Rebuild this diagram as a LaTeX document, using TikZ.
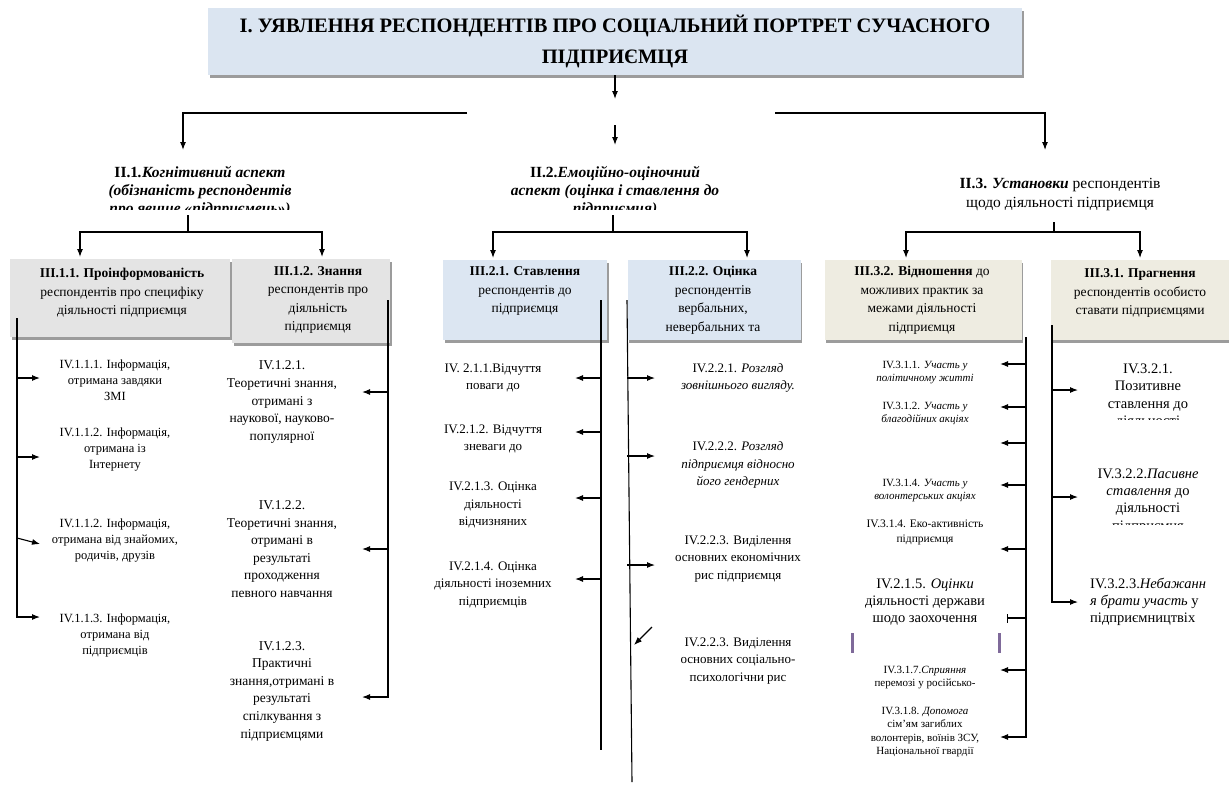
\documentclass[tikz,border=0pt]{standalone}
\usepackage{fontspec}
\setmainfont{Liberation Serif}
\usetikzlibrary{arrows.meta,shadows}

\definecolor{titleblue}{HTML}{DBE5F1}
\definecolor{boxgray}{HTML}{E4E4E4}
\definecolor{boxblue}{HTML}{DCE6F2}
\definecolor{boxbeige}{HTML}{EEECE1}
\definecolor{barpurple}{HTML}{7F6A9A}

\begin{document}
\begin{tikzpicture}[x=1pt,y=-1pt,
box/.style={inner sep=0pt,outer sep=0pt,drop shadow={shadow xshift=1.5pt,shadow yshift=-2.5pt,fill=black!55,opacity=0.7}},
txt/.style={align=center,inner sep=0pt},
fII/.style={txt,font=\fontsize{15.5}{18}\selectfont},
fIII/.style={txt,font=\fontsize{13.5}{18.5}\selectfont},
fsm/.style={txt,font=\fontsize{12.5}{16}\selectfont},
fmd/.style={txt,font=\fontsize{13.5}{17.6}\selectfont},
fIVb/.style={txt,font=\fontsize{13}{17.2}\selectfont},
ftiny/.style={txt,font=\fontsize{11}{13}\selectfont},
fbig/.style={txt,font=\fontsize{14.5}{17.2}\selectfont},
arrow/.style={-{Latex[length=8pt,width=6pt]},line width=1.1pt},
line/.style={line width=1.1pt}
]
\useasboundingbox[fill=white] (0,0) rectangle (1229,785);

% level I
\node[box,fill=titleblue,minimum width=814pt,minimum height=67pt,
  font=\fontsize{20.5}{31}\selectfont\bfseries,align=center] (title) at (615,41.5)
  {І. УЯВЛЕННЯ РЕСПОНДЕНТІВ ПРО СОЦІАЛЬНИЙ ПОРТРЕТ СУЧАСНОГО\\ПІДПРИЄМЦЯ};

% level II
\begin{scope}
\clip (40,150) rectangle (380,209);
\node[fII] (t21) at (200,192) {\textbf{II.1}\textbf{\textit{.Когнітивний аспект}}\\
  \textbf{\textit{(обізнаність респондентів}}\\\textbf{\textit{про явище «підприємець»)}}};
\end{scope}
\begin{scope}
\clip (460,150) rectangle (780,209);
\node[fII] (t22) at (615,192) {\textbf{II.2.}\textbf{\textit{Емоційно-оціночний}}\\
  \textbf{\textit{аспект (оцінка і ставлення до}}\\\textbf{\textit{підприємця)}}};
\end{scope}
\node[fII,font=\fontsize{15.5}{19}\selectfont] (t23) at (1060,195)
  {\textbf{II.3. \textit{Установки}} респондентів\\щодо діяльності підприємця};

% level III boxes
\node[box,fill=boxgray,minimum width=220pt,minimum height=78pt] (b111) at (120,298) {};
\node[box,fill=boxgray,minimum width=158pt,minimum height=84pt] (b112) at (311,301) {};
\node[box,fill=boxblue,minimum width=164pt,minimum height=80pt] (b211) at (525,300) {};
\node[box,fill=boxblue,minimum width=173pt,minimum height=80pt] (b212) at (714,300) {};
\node[box,fill=boxbeige,minimum width=197pt,minimum height=80pt] (b32) at (923,300) {};
\node[box,fill=boxbeige,minimum width=181pt,minimum height=80pt] (b31) at (1141,300) {};

\node[fIII] (t111) at (122,293) {\textbf{III.1.1. Проінформованість}\\респондентів про специфіку\\діяльності підприємця};
\node[fIII] (t112) at (318,300) {\textbf{III.1.2. Знання}\\респондентів про\\діяльність\\підприємця};
\node[fIII] (t211) at (525,291) {\textbf{III.2.1. Ставлення}\\респондентів до\\підприємця};
\node[fIII] (t212) at (713,300) {\textbf{III.2.2. Оцінка}\\респондентів\\вербальних,\\невербальних та};
\node[fIII] (t32) at (922,300) {\textbf{III.3.2. Відношення} до\\можливих практик за\\межами діяльності\\підприємця};
\node[fIII] (t31) at (1140,293) {\textbf{III.3.1. Прагнення}\\респондентів особисто\\ставати підприємцями};

% level IV
\node[fsm] (t1111) at (115,380) {IV.1.1.1. Інформація,\\отримана завдяки\\ЗМІ};
\node[fsm] (t1112) at (115,450) {IV.1.1.2. Інформація,\\отримана із\\Інтернету};
\node[fsm] (t1113) at (115,541) {IV.1.1.2. Інформація,\\отримана від знайомих,\\родичів, друзів};
\node[fsm] (t1114) at (115,635) {IV.1.1.3. Інформація,\\отримана від\\підприємців};

\node[fmd] (t1121) at (282,402) {IV.1.2.1.\\Теоретичні знання,\\отримані з\\наукової, науково-\\популярної};
\node[fmd] (t1122) at (282,549) {IV.1.2.2.\\Теоретичні знання,\\отримані в\\результаті\\проходження\\певного навчання};
\node[fmd] (t1123) at (282,691) {IV.1.2.3.\\Практичні\\знання,отримані в\\результаті\\спілкування з\\підприємцями};

\node[fIVb] (t2111) at (493,378) {IV. 2.1.1.Відчуття\\поваги до};
\node[fIVb] (t2112) at (493,439) {IV.2.1.2. Відчуття\\зневаги до};
\node[fIVb] (t2113) at (493,505) {IV.2.1.3. Оцінка\\діяльності\\відчизняних};
\node[fIVb] (t2114) at (493,585) {IV.2.1.4. Оцінка\\діяльності іноземних\\підприємців};

\node[fIVb] (t2221) at (738,378) {IV.2.2.1. \textit{Розгляд}\\\textit{зовнішнього вигляду.}};
\node[fIVb] (t2222) at (738,465) {IV.2.2.2. \textit{Розгляд}\\\textit{підприємця відносно}\\\textit{його гендерних}};
\node[fIVb] (t2223) at (738,559) {IV.2.2.3. Виділення\\основних економічних\\рис підприємця};
\node[fIVb] (t2224) at (738,661) {IV.2.2.3. Виділення\\основних соціально-\\психологічни рис};

\node[ftiny] (t3111) at (925,373) {IV.3.1.1. \textit{Участь у}\\\textit{політичному житті}};
\node[ftiny] (t3112) at (925,413) {IV.3.1.2. \textit{Участь у}\\\textit{благодійних акціях}};
\node[ftiny] (t3114) at (925,491) {IV.3.1.4. \textit{Участь у}\\\textit{волонтерських акціях}};
\node[ftiny,font=\fontsize{11.5}{15}\selectfont] (t3115) at (925,532) {IV.3.1.4. Еко-активність\\підприємця};
\node[fbig] (t2115) at (925,602) {IV.2.1.5. \textit{Оцінки}\\діяльності держави\\шодо заохочення};
\node[ftiny] (t3117) at (925,678) {IV.3.1.7.\textit{Сприяння}\\перемозі у російсько-};
\node[ftiny,font=\fontsize{11}{13.5}\selectfont] (t3118) at (925,732) {IV.3.1.8. \textit{Допомога}\\сім'ям загиблих\\волонтерів, воїнів ЗСУ,\\Національної гвардії};

\begin{scope}
\clip (1080,350) rectangle (1229,419);
\node[fbig] (t3221) at (1148,396) {IV.3.2.1.\\Позитивне\\ставлення до\\діяльності};
\end{scope}
\begin{scope}
\clip (1080,455) rectangle (1229,524);
\node[fbig] (t3222) at (1148,501) {IV.3.2.2.\textit{Пасивне}\\\textit{ставлення} до\\діяльності\\підприємця};
\end{scope}
\node[fbig,align=left,anchor=west] (t3223) at (1090,602) {IV.3.2.3.\textit{Небажанн}\\\textit{я брати участь} у\\підприємництвіх};

% purple marks
\draw[barpurple,line width=3pt] (852,633) -- (852,653);
\draw[barpurple,line width=3pt] (999,633) -- (999,653);

% connectors I -> II
\coordinate (hl) at (467,113);
\coordinate (hr) at (775,113);
\coordinate (a21) at (183,150);
\coordinate (a22) at (615,145);
\coordinate (a23) at (1045,150);
\draw[arrow] (title.south) -- ++(0,24);
\draw[arrow] (hl) -| (a21);
\draw[arrow] (hr) -| (a23);
\draw[arrow] ([yshift=20pt]a22) -- (a22);

% connectors II -> III
\coordinate (j1) at (188,232);
\coordinate (j2) at (613,232);
\coordinate (j3) at (1054,232);
\draw[line] (j1) -- ++(0,-17);
\draw[line] (j2) -- ++(0,-17);
\draw[line] (j3) -- ++(0,-10);
\draw[arrow] (j1) -| ([xshift=-40pt,yshift=2pt]b111.north);
\draw[arrow] (j1) -| ([xshift=11pt,yshift=2pt]b112.north);
\draw[arrow] (j2) -| ([xshift=-32pt,yshift=2pt]b211.north);
\draw[arrow] (j2) -| ([xshift=33pt,yshift=2pt]b212.north);
\draw[arrow] (j3) -| ([xshift=-17pt,yshift=2pt]b32.north);
\draw[arrow] (j3) -| ([xshift=-1pt,yshift=2pt]b31.north);

% connectors III -> IV
\coordinate (v1) at (17,318);
\coordinate (v2) at (388,300);
\coordinate (v3) at (601,300);
\coordinate (v4) at (627,300);
\coordinate (v5) at (1026,337);
\coordinate (v6) at (1052,325);

\draw[arrow] (v1) |- (40,617) coordinate (l1114);
\foreach \n/\y in {1/378,2/457} \draw[arrow] (v1 |- 0,\y) -- (40,\y) coordinate (l111\n);
\coordinate (l1113) at (40,544);
\draw[arrow] ([yshift=6pt]v1 |- l1113) -- (l1113);

\draw[arrow] (v2) |- (362,697) coordinate (l1123);
\foreach \n/\y in {1/392,2/549} \draw[arrow] (v2 |- 0,\y) -- (362,\y) coordinate (l112\n);

\draw[line] (v3) -- (601,750) coordinate (v3b);
\foreach \n/\y in {1/378,2/432,3/498,4/579} \draw[arrow] (v3 |- 0,\y) -- (575,\y) coordinate (l211\n);

\draw[line] (v4) -- (632,782) coordinate (v4b);
\foreach \n/\y in {1/378,2/456,3/565} \draw[arrow] (v4 |- 0,\y) -- (655,\y) coordinate (l222\n);
\coordinate (l2224) at (634,645);
\draw[arrow] ([xshift=18pt,yshift=18pt]l2224) -- (l2224);

\draw[arrow] (v5) |- (1000,737) coordinate (l3118);
\foreach \n/\y in {1/364,2/407,3/443,4/485,5/549,7/670} \draw[arrow] (v5 |- 0,\y) -- (1000,\y) coordinate (l311\n);
\draw[line,-{Bar[width=9pt]}] (v5 |- 0,618) -- (1007,618) coordinate (l2115);

\draw[arrow] (v6) |- (1078,602) coordinate (l3223);
\foreach \n/\y in {1/390,2/497} \draw[arrow] (v6 |- 0,\y) -- (1078,\y) coordinate (l322\n);
\end{tikzpicture}
\end{document}
